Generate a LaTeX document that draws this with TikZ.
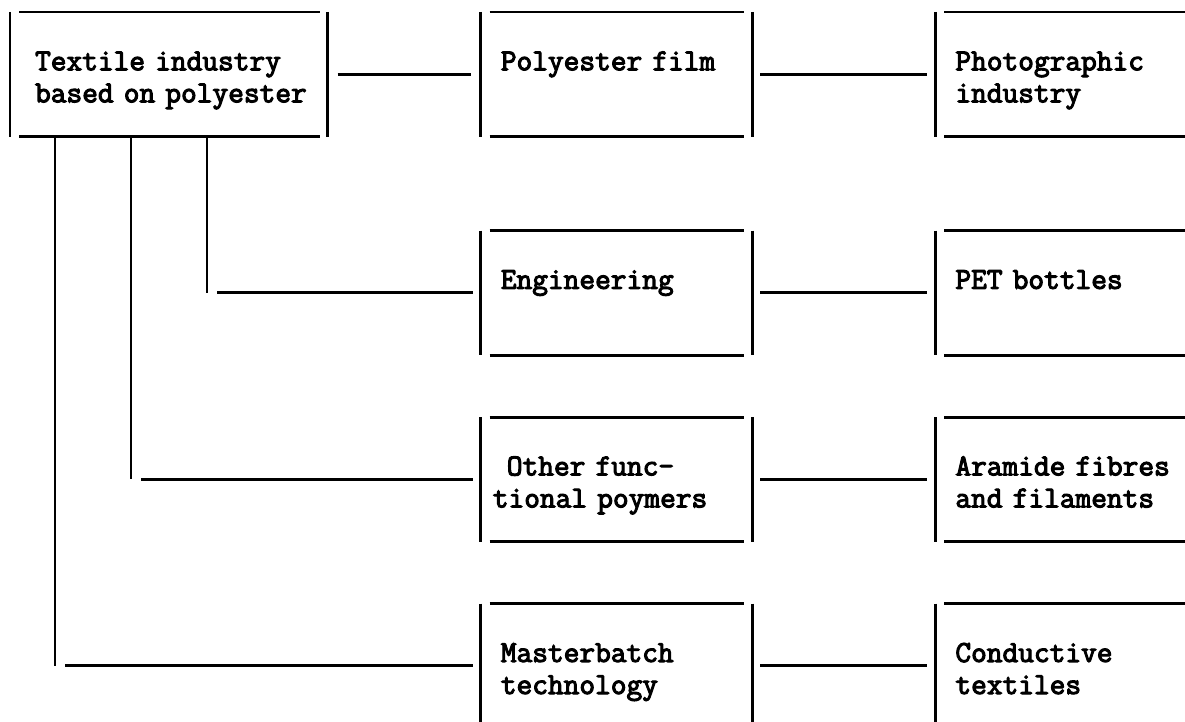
\documentclass[tikz,border=0pt]{standalone}
\usepackage{fontspec}
\newfontfamily\typefont[FakeStretch=1.0, FakeBold=3.5]{Latin Modern Mono}
\usetikzlibrary{positioning, calc}

\begin{document}
\begin{tikzpicture}[
  block/.style = {rectangle, inner sep=0pt, text width=6.775cm,
                  text height=1.45cm, text depth=1.65cm, align=left,
                  execute at begin node={\leftskip=0.5cm},
                  font=\typefont\fontsize{21.7}{22.8}\selectfont},
  wide/.style  = {block, text width=7.925cm, execute at begin node={\leftskip=0.62cm}},
  open/.style  = {block, text width=10cm},
  link/.style  = {line width=2.1pt, black},
]
  \useasboundingbox (0,0) rectangle (29.625,-18.05);
  \clip (0,0) rectangle (29.625,-18.05);

  \node[wide, anchor=north west] (tex) at (0.25,-0.3) {Textile industry\\based on polyester};
  \node[block, right=3.825cm of tex]   (film)   {Polyester film};
  \node[open,  right=4.575cm of film]  (photo)  {Photographic\\industry};
  \node[block, below=2.35cm of film]   (eng)    {Engineering};
  \node[open,  right=4.575cm of eng]   (pet)    {PET bottles};
  \node[block, below=1.55cm of eng]    (other)  {\hspace*{0.15cm}Other func-\\\hspace*{-0.2cm}tional poymers};
  \node[open,  right=4.575cm of other] (aram)   {Aramide fibres\\and filaments};
  \node[block, below=1.55cm of other]  (master) {Masterbatch\\technology};
  \node[open,  right=4.575cm of master] (cond)  {Conductive\\textiles};

  % box sides, typed apart at the corners
  \foreach \n in {tex, film, photo, eng, pet, other, aram, master, cond} {
    \draw[link] (\n.north west) -- (\n.south west);
    \draw[link] (\n.north east) -- (\n.south east);
    \draw[link] ([xshift=0.225cm]\n.north west) -- ([xshift=-0.2cm]\n.north east);
    \draw[link] ([xshift=0.225cm]\n.south west) -- ([xshift=-0.2cm]\n.south east);
  }

  \draw[link] ([xshift=0.25cm]tex.east) -- ([xshift=-0.25cm]film.west);
  \foreach \a/\b in {film/photo, eng/pet, other/aram, master/cond}
    \draw[link] ([xshift=0.2cm]\a.east) -- ([xshift=-0.2cm]\b.west);

  % drops from the textile box
  \foreach \dx/\n in {1.125/master, 3.025/other, 4.925/eng} {
    \coordinate (drop) at ([xshift=\dx cm]tex.south west);
    \draw[link] (drop) -- (drop |- \n.west);
    \draw[link] ($(drop |- \n.west)+(0.25,0)$) -- ([xshift=-0.2cm]\n.west);
  }
\end{tikzpicture}
\end{document}
